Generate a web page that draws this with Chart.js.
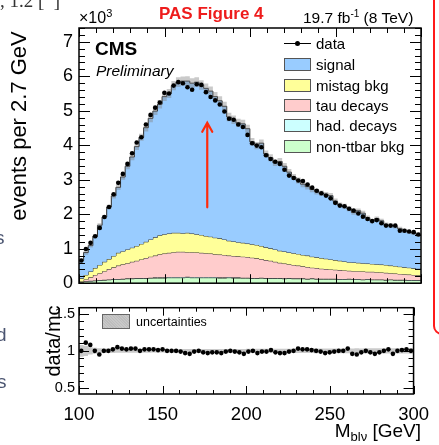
<!DOCTYPE html>
<html>
<head>
<meta charset="utf-8">
<script src="https://cdn.jsdelivr.net/npm/chart.js@4.4.0/dist/chart.umd.min.js"></script>
<style>
  html, body { margin: 0; padding: 0; background: #fff; }
  #wrap { position: relative; width: 439px; height: 445px; overflow: hidden;
          font-family: "Liberation Sans", Arial, sans-serif; color: #000; }
  canvas { position: absolute; left: 0; }
  .t { position: absolute; white-space: nowrap; line-height: 1; }
  .lg { position: absolute; left: 284px; width: 27px; height: 13px; box-sizing: border-box;
        border: 1px solid #555; }
  .lt { position: absolute; left: 316px; font-size: 15px; line-height: 1; transform: translateY(-50%); white-space: nowrap; }
  .frag { position: absolute; color: #4a5470; font-size: 19px; line-height: 1; }
</style>
</head>
<body>
<div id="wrap">
  <canvas id="main" width="439" height="300" style="top:0"></canvas>
  <canvas id="ratio" width="439" height="150" style="top:295px"></canvas>

  <!-- page context around the figure -->
  <div class="t" style="left:0;top:-9px;font-family:'Liberation Serif',serif;font-size:19px;color:#333">, 1.2 [&nbsp;&nbsp;]</div>
  <div class="frag" style="left:-5px;top:228px">s</div>
  <div class="frag" style="left:-4px;top:325px">d</div>
  <div class="frag" style="left:-3px;top:372px">s</div>
  <div style="position:absolute;left:433px;top:-20px;width:40px;height:355px;box-sizing:border-box;border:2.5px solid #ff1a1a;border-radius:9px"></div>

  <!-- header -->
  <div class="t" style="left:79px;top:8px;font-size:16px">×10<sup style="font-size:11px;vertical-align:6px">3</sup></div>
  <div class="t" style="left:159px;top:5px;font-size:17px;font-weight:bold;color:#ee1c1c">PAS Figure 4</div>
  <div class="t" style="left:303px;top:9px;font-size:15.5px">19.7 fb<sup style="font-size:10px;vertical-align:6px">-1</sup> (8 TeV)</div>
  <div class="t" style="left:95px;top:39px;font-size:19px;font-weight:bold">CMS</div>
  <div class="t" style="left:96px;top:63px;font-size:15.5px;font-style:italic">Preliminary</div>

  <!-- axis titles -->
  <div class="t" style="left:19px;top:126px;font-size:22px;transform:translate(-50%,-50%) rotate(-90deg)">events per 2.7 GeV</div>
  <div class="t" style="left:53px;top:341px;font-size:20px;transform:translate(-50%,-50%) rotate(-90deg)">data/mc</div>
  <div class="t" style="right:18px;top:421px;font-size:19px">M<sub style="font-size:13px;vertical-align:-4px">blν</sub> [GeV]</div>

  <!-- legend, upper panel -->
  <div style="position:absolute;left:284px;top:42.5px;width:27px;height:1px;background:#000"></div>
  <div style="position:absolute;left:295px;top:40.5px;width:5px;height:5px;border-radius:50%;background:#000"></div>
  <div class="lt" style="top:43px">data</div>
  <div class="lg" style="top:57.5px;background:#99ccff"></div><div class="lt" style="top:64px">signal</div>
  <div class="lg" style="top:78.5px;background:#ffff99"></div><div class="lt" style="top:85px">mistag bkg</div>
  <div class="lg" style="top:98.5px;background:#ffcccc"></div><div class="lt" style="top:105px">tau decays</div>
  <div class="lg" style="top:118.5px;background:#ccffff"></div><div class="lt" style="top:125px">had. decays</div>
  <div class="lg" style="top:139.5px;background:#ccffcc"></div><div class="lt" style="top:146px">non-ttbar bkg</div>

  <!-- legend, ratio panel -->
  <div style="position:absolute;left:102px;top:314px;width:28px;height:15px;box-sizing:border-box;border:1px solid #666;
       background:repeating-linear-gradient(45deg,#c8c8c8 0 1px,#bdbdbd 1px 2px)"></div>
  <div class="t" style="left:136px;top:316px;font-size:12.5px">uncertainties</div>
</div>

<script>
// Binning of the M_blv distribution (2.7 GeV bins from 100 GeV)
const massMin = 100;
const binWidth = 2.7;
const nBins = 74;

// Tick labels
const xTickValues = [100, 150, 200, 250, 300];
const yTickValues = [0, 1, 2, 3, 4, 5, 6, 7];
const ratioTickValues = [0.5, 1, 1.5];

// Observed events per bin (x10^3)
const dataEvents = [
  0.66, 0.99, 1.17, 1.36, 1.60, 1.92, 2.21, 2.58, 2.91, 3.17,
  3.46, 3.77, 4.08, 4.23, 4.60, 4.88, 5.09, 5.24, 5.52, 5.50,
  5.73, 5.83, 5.80, 5.68, 5.61, 5.77, 5.75, 5.54, 5.40, 5.30,
  5.18, 4.98, 4.77, 4.74, 4.60, 4.53, 4.30, 4.06, 3.99, 3.94,
  3.71, 3.60, 3.52, 3.46, 3.29, 3.12, 3.05, 2.98, 2.96, 2.86,
  2.77, 2.68, 2.61, 2.54, 2.46, 2.33, 2.25, 2.23, 2.16, 2.11,
  2.02, 1.93, 1.86, 1.80, 1.83, 1.74, 1.67, 1.67, 1.67, 1.52,
  1.52, 1.50, 1.48, 1.41
];

// Stacked simulation, upper edge of each layer (x10^3)
const stackNonTtbar = [
  0.03, 0.05, 0.06, 0.07, 0.08, 0.09, 0.10, 0.11, 0.11, 0.12,
  0.13, 0.13, 0.14, 0.14, 0.14, 0.15, 0.15, 0.15, 0.15, 0.16,
  0.16, 0.16, 0.16, 0.17, 0.16, 0.16, 0.16, 0.16, 0.16, 0.16,
  0.15, 0.15, 0.16, 0.15, 0.15, 0.15, 0.15, 0.14, 0.14, 0.15,
  0.14, 0.14, 0.14, 0.14, 0.13, 0.14, 0.13, 0.13, 0.13, 0.12,
  0.13, 0.12, 0.12, 0.12, 0.12, 0.12, 0.11, 0.11, 0.12, 0.11,
  0.11, 0.10, 0.11, 0.10, 0.10, 0.10, 0.09, 0.10, 0.09, 0.09,
  0.09, 0.08, 0.08, 0.08
];
const stackHad = [
  0.03, 0.06, 0.07, 0.08, 0.09, 0.10, 0.11, 0.12, 0.12, 0.13,
  0.14, 0.14, 0.15, 0.15, 0.15, 0.16, 0.17, 0.17, 0.17, 0.18,
  0.18, 0.18, 0.18, 0.19, 0.18, 0.18, 0.18, 0.18, 0.18, 0.18,
  0.17, 0.17, 0.18, 0.17, 0.17, 0.16, 0.16, 0.15, 0.15, 0.16,
  0.15, 0.15, 0.15, 0.15, 0.14, 0.15, 0.14, 0.14, 0.14, 0.13,
  0.14, 0.13, 0.13, 0.13, 0.13, 0.13, 0.12, 0.12, 0.13, 0.12,
  0.12, 0.11, 0.12, 0.11, 0.11, 0.11, 0.10, 0.11, 0.10, 0.10,
  0.10, 0.09, 0.09, 0.09
];
const stackTau = [
  0.05, 0.11, 0.17, 0.24, 0.29, 0.35, 0.41, 0.46, 0.51, 0.55,
  0.58, 0.62, 0.65, 0.69, 0.73, 0.77, 0.80, 0.84, 0.86, 0.88,
  0.90, 0.91, 0.91, 0.90, 0.90, 0.89, 0.88, 0.87, 0.86, 0.84,
  0.83, 0.82, 0.80, 0.79, 0.78, 0.77, 0.76, 0.74, 0.72, 0.70,
  0.67, 0.65, 0.62, 0.59, 0.57, 0.55, 0.53, 0.51, 0.49, 0.47,
  0.45, 0.44, 0.42, 0.41, 0.40, 0.39, 0.38, 0.37, 0.36, 0.35,
  0.35, 0.34, 0.33, 0.33, 0.32, 0.31, 0.30, 0.29, 0.28, 0.27,
  0.26, 0.25, 0.24, 0.23
];
const stackMistag = [
  0.14, 0.24, 0.34, 0.44, 0.53, 0.62, 0.70, 0.79, 0.88, 0.93,
  0.98, 1.03, 1.08, 1.14, 1.20, 1.27, 1.33, 1.39, 1.42, 1.44,
  1.46, 1.46, 1.45, 1.46, 1.44, 1.42, 1.40, 1.37, 1.35, 1.32,
  1.30, 1.27, 1.23, 1.21, 1.19, 1.17, 1.15, 1.13, 1.11, 1.08,
  1.04, 1.01, 0.98, 0.94, 0.92, 0.89, 0.87, 0.85, 0.82, 0.80,
  0.77, 0.75, 0.73, 0.71, 0.69, 0.67, 0.65, 0.63, 0.61, 0.60,
  0.59, 0.58, 0.57, 0.56, 0.55, 0.54, 0.53, 0.51, 0.50, 0.48,
  0.46, 0.45, 0.43, 0.42
];
const stackSignal = [
  0.66, 0.89, 1.09, 1.36, 1.68, 1.92, 2.21, 2.53, 2.78, 3.08,
  3.39, 3.66, 3.96, 4.23, 4.51, 4.78, 4.99, 5.19, 5.41, 5.50,
  5.73, 5.83, 5.86, 5.86, 5.80, 5.83, 5.75, 5.65, 5.57, 5.41,
  5.29, 5.13, 4.82, 4.74, 4.65, 4.62, 4.48, 4.10, 3.99, 4.06,
  3.75, 3.64, 3.49, 3.53, 3.39, 3.22, 3.08, 2.98, 2.87, 2.80,
  2.72, 2.65, 2.61, 2.57, 2.54, 2.38, 2.27, 2.23, 2.16, 2.05,
  2.10, 2.03, 1.90, 1.80, 1.87, 1.81, 1.70, 1.67, 1.64, 1.58,
  1.52, 1.49, 1.45, 1.41
];

// Relative uncertainty of the total simulation
const mcUncertainty = [
  0.080, 0.070, 0.050, 0.040, 0.035, 0.030, 0.030, 0.028, 0.027, 0.026,
  0.025, 0.025, 0.024, 0.024, 0.025, 0.024, 0.023, 0.024, 0.023, 0.024,
  0.023, 0.024, 0.023, 0.024, 0.025, 0.024, 0.024, 0.025, 0.024, 0.025,
  0.025, 0.026, 0.025, 0.026, 0.025, 0.026, 0.026, 0.027, 0.026, 0.027,
  0.027, 0.028, 0.027, 0.028, 0.028, 0.029, 0.028, 0.029, 0.030, 0.029,
  0.030, 0.030, 0.031, 0.030, 0.031, 0.032, 0.031, 0.032, 0.033, 0.032,
  0.033, 0.034, 0.033, 0.034, 0.035, 0.034, 0.035, 0.036, 0.035, 0.036,
  0.037, 0.036, 0.037, 0.038
];

// data / simulation
const dataOverMc = [
  1.00, 1.11, 1.08, 1.00, 0.95, 1.00, 1.00, 1.02, 1.05, 1.03,
  1.02, 1.03, 1.03, 1.00, 1.02, 1.02, 1.02, 1.01, 1.02, 1.00,
  1.00, 1.00, 0.99, 0.97, 0.96, 0.99, 1.00, 0.98, 0.97, 0.98,
  0.98, 0.97, 0.99, 1.00, 0.99, 0.98, 0.96, 0.99, 1.00, 0.97,
  0.99, 0.99, 1.01, 0.98, 0.97, 0.97, 0.99, 1.00, 1.03, 1.02,
  1.02, 1.01, 1.00, 0.99, 0.97, 0.98, 0.99, 1.00, 1.00, 1.03,
  0.96, 0.95, 0.98, 1.00, 0.98, 0.96, 0.98, 1.00, 1.02, 0.96,
  1.00, 1.01, 1.02, 1.00
];

const FONT = 'Liberation Sans';
Chart.defaults.font.family = FONT;
Chart.defaults.color = '#000';

const binEdges = Array.from({ length: nBins + 1 }, (_, i) => massMin + i * binWidth);
const binCenters = binEdges.slice(0, -1).map(e => e + binWidth / 2);

// histogram outline: one point per lower bin edge plus the closing edge
function histPoints(values) {
  const pts = values.map((v, i) => ({ x: binEdges[i], y: v }));
  pts.push({ x: binEdges[nBins], y: values[nBins - 1] });
  return pts;
}
function centerPoints(values) {
  return values.map((v, i) => ({ x: binCenters[i], y: v }));
}

function histLayer(label, values, color, order, fill) {
  return {
    label, data: histPoints(values), stepped: true, fill,
    backgroundColor: color, borderColor: '#2a2a2a', borderWidth: 1,
    pointRadius: 0, order
  };
}

// frame with inward major/minor ticks on all four sides
const frameTicks = {
  id: 'frameTicks',
  afterDatasetsDraw(chart, _args, o) {
    const { ctx, chartArea: a } = chart;
    const xs = chart.scales.x, ys = chart.scales.y;
    ctx.save();
    ctx.strokeStyle = '#000';
    ctx.lineWidth = 1;
    ctx.beginPath();
    const nx = Math.round((xs.max - xs.min) / o.xMinor);
    for (let i = 0; i <= nx; i++) {
      const v = xs.min + i * o.xMinor;
      const len = (i % o.xPer === 0) ? o.xMajorLen : o.xMinorLen;
      const p = Math.round(xs.getPixelForValue(v)) + 0.5;
      ctx.moveTo(p, a.bottom); ctx.lineTo(p, a.bottom - len);
      ctx.moveTo(p, a.top); ctx.lineTo(p, a.top + len);
    }
    for (let i = -10; i <= 100; i++) {
      const v = o.yBase + i * o.yMinor;
      if (v < ys.min - 1e-9 || v > ys.max + 1e-9) continue;
      const len = (((i % o.yPer) + o.yPer) % o.yPer === 0) ? o.yMajorLen : o.yMinorLen;
      const p = Math.round(ys.getPixelForValue(v)) + 0.5;
      ctx.moveTo(a.left, p); ctx.lineTo(a.left + len, p);
      ctx.moveTo(a.right, p); ctx.lineTo(a.right - len, p);
    }
    ctx.stroke();
    ctx.lineWidth = 1.5;
    ctx.strokeRect(a.left, a.top, a.right - a.left, a.bottom - a.top);
    ctx.restore();
  }
};

// vertical arrow placed in data coordinates
const arrowMark = {
  id: 'arrowMark',
  afterDatasetsDraw(chart, _args, o) {
    if (!o || o.mass === undefined) return;
    const { ctx } = chart;
    const xs = chart.scales.x, ys = chart.scales.y;
    const px = xs.getPixelForValue(o.mass);
    const y0 = ys.getPixelForValue(o.from), y1 = ys.getPixelForValue(o.to);
    ctx.save();
    ctx.strokeStyle = o.color;
    ctx.lineWidth = 2.2;
    ctx.lineCap = 'round';
    ctx.beginPath();
    ctx.moveTo(px, y0); ctx.lineTo(px, y1);
    ctx.moveTo(px - 5, y1 + 9); ctx.lineTo(px, y1); ctx.lineTo(px + 5, y1 + 9);
    ctx.stroke();
    ctx.restore();
  }
};

const bandColor = 'rgba(128,128,128,0.42)';

new Chart(document.getElementById('main'), {
  type: 'line',
  data: {
    datasets: [
      histLayer('non-ttbar bkg', stackNonTtbar, '#ccffcc', 6, 'origin'),
      histLayer('had. decays', stackHad, '#ccffff', 5, '-1'),
      histLayer('tau decays', stackTau, '#ffcccc', 4, '-1'),
      histLayer('mistag bkg', stackMistag, '#ffff99', 3, '-1'),
      histLayer('signal', stackSignal, '#99ccff', 2, '-1'),
      { label: 'unc-lo', data: histPoints(stackSignal.map((v, i) => v * (1 - mcUncertainty[i]))),
        stepped: true, fill: false, borderWidth: 0, pointRadius: 0, order: 1 },
      { label: 'unc-hi', data: histPoints(stackSignal.map((v, i) => v * (1 + mcUncertainty[i]))),
        stepped: true, fill: '-1', backgroundColor: bandColor, borderWidth: 0, pointRadius: 0, order: 1 },
      { label: 'data', data: centerPoints(dataEvents), showLine: false,
        pointRadius: 2.3, pointBackgroundColor: '#000', pointBorderWidth: 0, order: 0 }
    ]
  },
  options: {
    responsive: false, animation: false, events: [],
    layout: { padding: { top: 28, right: 18, bottom: 10, left: 0 } },
    plugins: {
      legend: { display: false }, tooltip: { enabled: false },
      frameTicks: { xMinor: 10, xPer: 5, xMajorLen: 9, xMinorLen: 5,
                    yBase: 0, yMinor: 0.2, yPer: 5, yMajorLen: 11, yMinorLen: 6 },
      arrowMark: { mass: 175, from: 2.2, to: 4.65, color: '#ff2a0a' }
    },
    scales: {
      x: { type: 'linear', min: 100, max: 300, display: false },
      y: {
        min: 0, max: 7.4,
        afterFit: s => { s.width = 79; },
        afterBuildTicks: s => { s.ticks = yTickValues.map(v => ({ value: v })); },
        ticks: { font: { size: 18 }, color: '#000', padding: 6 },
        grid: { display: false, drawTicks: false },
        border: { display: false }
      }
    }
  },
  plugins: [frameTicks, arrowMark]
});

new Chart(document.getElementById('ratio'), {
  type: 'line',
  data: {
    datasets: [
      { label: 'unc-lo', data: histPoints(mcUncertainty.map(u => 1 - u)),
        stepped: true, fill: false, borderWidth: 0, pointRadius: 0, order: 1 },
      { label: 'uncertainties', data: histPoints(mcUncertainty.map(u => 1 + u)),
        stepped: true, fill: '-1', backgroundColor: bandColor, borderWidth: 0, pointRadius: 0, order: 1 },
      { label: 'data/mc', data: centerPoints(dataOverMc), showLine: false,
        pointRadius: 2.3, pointBackgroundColor: '#000', pointBorderWidth: 0, order: 0 }
    ]
  },
  options: {
    responsive: false, animation: false, events: [],
    layout: { padding: { top: 7, right: 18, bottom: 0, left: 0 } },
    plugins: {
      legend: { display: false }, tooltip: { enabled: false },
      frameTicks: { xMinor: 10, xPer: 5, xMajorLen: 8, xMinorLen: 4,
                    yBase: 0.5, yMinor: 0.1, yPer: 5, yMajorLen: 10, yMinorLen: 5 }
    },
    scales: {
      x: {
        type: 'linear', min: 100, max: 300,
        afterFit: s => { s.height = 51; },
        afterBuildTicks: s => { s.ticks = xTickValues.map(v => ({ value: v })); },
        ticks: { font: { size: 18.5 }, color: '#000', padding: 10, maxRotation: 0, autoSkip: false },
        grid: { display: false, drawTicks: false },
        border: { display: false }
      },
      y: {
        min: 0.42, max: 1.58,
        afterFit: s => { s.width = 79; },
        afterBuildTicks: s => { s.ticks = ratioTickValues.map(v => ({ value: v })); },
        ticks: { font: { size: 14.5 }, color: '#000', padding: 4, callback: v => String(v) },
        grid: { display: false, drawTicks: false },
        border: { display: false }
      }
    }
  },
  plugins: [frameTicks]
});
</script>
</body>
</html>
